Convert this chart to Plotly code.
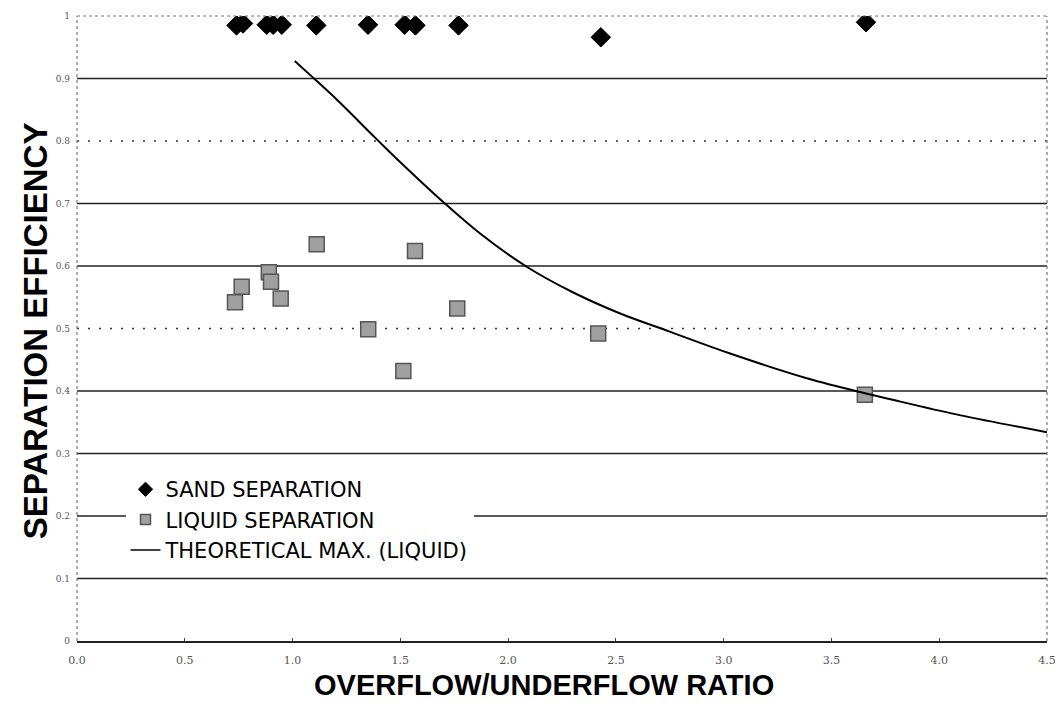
import plotly.graph_objects as go

# Overflow/underflow ratio for each test
ratio = [0.74, 0.77, 0.88, 0.91, 0.95, 1.11, 1.35, 1.52, 1.57, 1.77, 2.43, 3.66]
# Sand separation efficiency
sand_eff = [0.985, 0.988, 0.986, 0.986, 0.986, 0.985, 0.986, 0.986, 0.985, 0.985, 0.966, 0.990]
# Liquid separation efficiency
liquid_ratio = [0.733, 0.764, 0.89, 0.90, 0.945, 1.112, 1.351, 1.514, 1.568, 1.764, 2.418, 3.655]
liquid_eff = [0.542, 0.567, 0.590, 0.575, 0.548, 0.635, 0.499, 0.432, 0.624, 0.532, 0.492, 0.394]
# Theoretical maximum (liquid) curve
theo_x = [1.01, 1.09, 1.20, 1.39, 1.50, 1.70, 1.87, 2.09, 2.30, 2.52, 2.75, 3.03, 3.39, 3.66, 3.82, 4.10, 4.50]
theo_y = [0.928, 0.903, 0.868, 0.803, 0.766, 0.702, 0.652, 0.598, 0.558, 0.524, 0.495, 0.460, 0.420, 0.396, 0.383, 0.361, 0.334]

series_names = ["SAND SEPARATION", "LIQUID SEPARATION", "THEORETICAL MAX. (LIQUID)"]
x_title = "OVERFLOW/UNDERFLOW RATIO"
y_title = "SEPARATION EFFICIENCY"

x_ticks = [0.0, 0.5, 1.0, 1.5, 2.0, 2.5, 3.0, 3.5, 4.0, 4.5]
x_tick_labels = ["0.0", "0.5", "1.0", "1.5", "2.0", "2.5", "3.0", "3.5", "4.0", "4.5"]
y_ticks = [0, 0.1, 0.2, 0.3, 0.4, 0.5, 0.6, 0.7, 0.8, 0.9, 1.0]
y_tick_labels = ["0", "0.1", "0.2", "0.3", "0.4", "0.5", "0.6", "0.7", "0.8", "0.9", "1"]
dotted_levels = [0.5, 0.8]

sand_marker = dict(symbol="diamond", color="black", line=dict(color="black", width=1))
liquid_marker = dict(symbol="square", color="#a0a0a0", line=dict(color="#555", width=1.5))

fig = go.Figure()

fig.add_trace(go.Scatter(
    x=ratio, y=sand_eff, mode="markers", name=series_names[0], showlegend=False,
    marker=dict(size=15, **sand_marker),
))
fig.add_trace(go.Scatter(
    x=liquid_ratio, y=liquid_eff, mode="markers", name=series_names[1], showlegend=False,
    marker=dict(size=15, **liquid_marker),
))
fig.add_trace(go.Scatter(
    x=theo_x, y=theo_y, mode="lines", name=series_names[2], showlegend=False,
    line=dict(color="black", width=2, shape="spline"),
))
# legend entries (smaller symbols, as in the original legend)
fig.add_trace(go.Scatter(x=[None], y=[None], mode="markers", name=series_names[0],
                         marker=dict(size=11, **sand_marker)))
fig.add_trace(go.Scatter(x=[None], y=[None], mode="markers", name=series_names[1],
                         marker=dict(size=10, **liquid_marker)))
fig.add_trace(go.Scatter(x=[None], y=[None], mode="lines", name=series_names[2],
                         line=dict(color="black", width=1.5)))

shapes = []
for lv in y_ticks[1:-1]:
    dotted = lv in dotted_levels
    shapes.append(dict(
        type="line", xref="paper", x0=0, x1=1, yref="y", y0=lv, y1=lv, layer="below",
        line=dict(color="#333" if dotted else "#222",
                  width=1.5 if dotted else 1.3,
                  dash="2px,9px" if dotted else "solid"),
    ))
# top, right and left borders (faint dotted as in the scan)
for (x0, x1, y0, y1) in [(0, 1, 1, 1), (1, 1, 0, 1), (0, 0, 0, 1)]:
    shapes.append(dict(type="line", xref="paper", yref="paper", x0=x0, x1=x1, y0=y0, y1=y1,
                       line=dict(color="#777", width=1.2, dash="dot")))

title_font = dict(family="Liberation Sans, Arial, sans-serif", color="black")
annotations = [
    dict(text="<b>%s</b>" % x_title, xref="paper", yref="paper", x=0.481, y=-0.071,
         xanchor="center", yanchor="middle", showarrow=False, font=dict(size=29, **title_font)),
    dict(text="<b>%s</b>" % y_title, xref="paper", yref="paper", x=-0.0433, y=0.497,
         xanchor="center", yanchor="middle", textangle=-90, showarrow=False,
         font=dict(size=33, **title_font)),
]

fig.update_layout(
    width=1063, height=712,
    margin=dict(l=69, r=24, t=8, b=79),
    paper_bgcolor="white", plot_bgcolor="white",
    shapes=shapes, annotations=annotations,
    showlegend=True,
    legend=dict(
        x=0.05, y=0.275, xanchor="left", yanchor="top",
        bgcolor="white", borderwidth=0,
        font=dict(family="DejaVu Sans, sans-serif", size=21, color="black"),
        itemwidth=30, tracegroupgap=0,
    ),
    font=dict(family="Liberation Sans, Arial, sans-serif"),
)
fig.update_xaxes(
    range=[0, 4.5], tickvals=x_ticks, ticktext=x_tick_labels,
    showgrid=False, zeroline=False, automargin=False,
    showline=True, linecolor="#222", linewidth=1.5,
    ticks="inside", ticklen=3, tickcolor="#444",
    ticklabelstandoff=8,
    tickfont=dict(family="DejaVu Serif, serif", size=11, color="#555"),
)
fig.update_yaxes(
    range=[0, 1.0], tickvals=y_ticks, ticktext=y_tick_labels,
    showgrid=False, zeroline=False, showline=False, automargin=False,
    ticks="", ticklabelstandoff=6,
    tickfont=dict(family="DejaVu Serif, serif", size=9, color="#555"),
)

fig.write_html("out.html")
